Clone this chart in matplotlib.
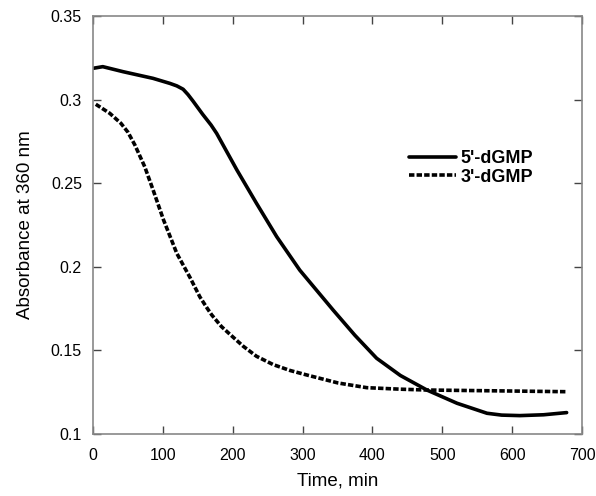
import matplotlib
matplotlib.use("Agg")
import matplotlib.pyplot as plt

plt.rcParams['font.family'] = ['Liberation Sans', 'DejaVu Sans']

t_5 = [0, 14, 43, 86, 110, 120, 129, 136, 143, 157, 169, 177, 206, 234, 263, 296,
       330, 344, 375, 406, 440, 478, 521, 564, 585, 611, 645, 678]
a_5 = [0.3187, 0.3197, 0.3167, 0.3127, 0.3097, 0.3082, 0.3062, 0.303, 0.2992,
       0.2912, 0.2848, 0.2798, 0.2579, 0.238, 0.218, 0.198, 0.181, 0.174, 0.159,
       0.1453, 0.135, 0.1263, 0.1184, 0.1124, 0.1113, 0.111, 0.1115, 0.1128]

t_3 = [4, 24, 40, 50, 60, 74, 86, 101, 120, 139, 153, 163, 170, 184, 199, 215,
       234, 258, 282, 306, 351, 392, 440, 478, 580, 678]
a_3 = [0.2972, 0.2918, 0.2858, 0.2805, 0.2728, 0.2599, 0.246, 0.228, 0.208,
       0.1935, 0.182, 0.1755, 0.1712, 0.1642, 0.1585, 0.1525, 0.1465, 0.1415,
       0.138, 0.1353, 0.1305, 0.1277, 0.1268, 0.1263, 0.1258, 0.1253]

labels = ["5'-dGMP", "3'-dGMP"]
xticks = [0, 100, 200, 300, 400, 500, 600, 700]
yticks = [0.1, 0.15, 0.2, 0.25, 0.3, 0.35]
ytick_labels = ["0.1", "0.15", "0.2", "0.25", "0.3", "0.35"]

fig = plt.figure(figsize=(5.96, 4.96), dpi=100)
ax = fig.add_axes([93/596, 1-434/496, (582-93)/596, (434-16)/496])

ax.plot(t_5, a_5, color='black', lw=2.6, solid_capstyle='round',
        solid_joinstyle='round', label=labels[0])
ax.plot(t_3, a_3, color='black', lw=2.6, dashes=(1.5, 0.6), label=labels[1])

ax.set_xlim(0, 700)
ax.set_ylim(0.1, 0.35)
ax.set_xticks(xticks)
ax.set_yticks(yticks)
ax.set_yticklabels(ytick_labels)
ax.tick_params(direction='in', length=6, width=1, color='#444444',
               top=True, right=True, labelsize=11.5)
ax.tick_params(axis='x', pad=10)
ax.tick_params(axis='y', pad=8)
for s in ax.spines.values():
    s.set_color('#888888')
    s.set_linewidth(1.2)

ax.set_xlabel('Time, min', fontsize=13.5, labelpad=7)
ax.set_ylabel('Absorbance at 360 nm', fontsize=13.5, labelpad=12)

leg = ax.legend(loc='upper left', bbox_to_anchor=(409/596, 1-150/496),
                bbox_transform=fig.transFigure, frameon=False,
                prop={'weight': 'bold', 'size': 13}, handlelength=2.6,
                handletextpad=0.25, labelspacing=0.1, borderpad=0,
                borderaxespad=0)

fig.savefig('out.png', dpi=100)
